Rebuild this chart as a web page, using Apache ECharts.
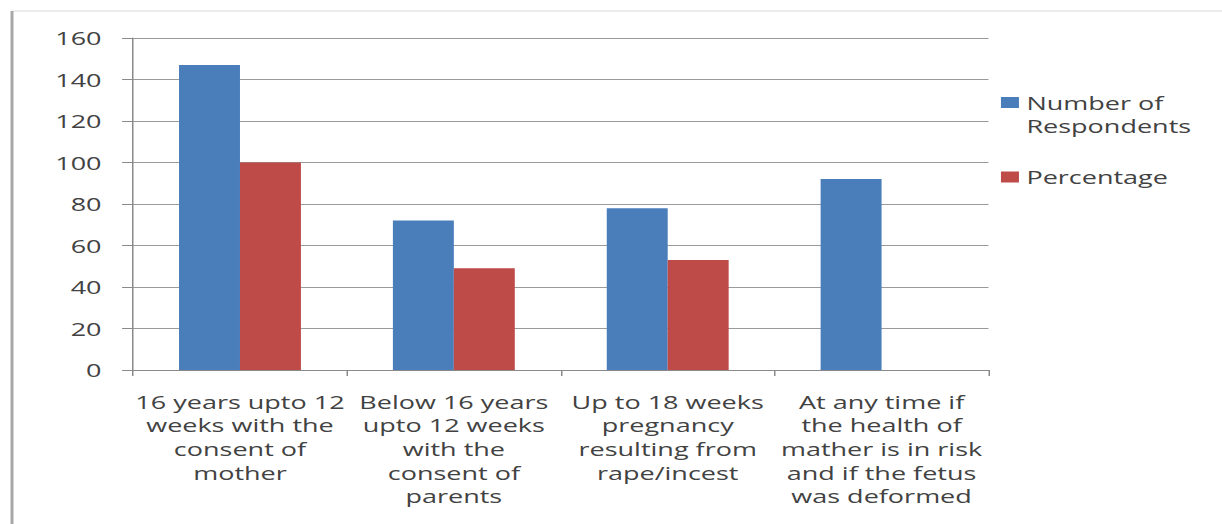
<!DOCTYPE html>
<html>
<head>
<meta charset="utf-8">
<script src="https://cdn.jsdelivr.net/npm/echarts@6/dist/echarts.min.js"></script>
<style>
  html, body { margin: 0; padding: 0; background: #ffffff; overflow: hidden; }
  /* the chart is laid out narrow and widened horizontally */
  #chart { width: 814.67px; height: 524px; transform: scaleX(1.5); transform-origin: 0 0; }
</style>
</head>
<body>
<div id="chart"></div>
<script>
const categories = [
  '16 years upto 12\nweeks with the\nconsent of\nmother',
  'Below 16 years\nupto 12 weeks\nwith the\nconsent of\nparents',
  'Up to 18 weeks\npregnancy\nresulting from\nrape/incest',
  'At any time if\nthe health of\nmather is in risk\nand if the fetus\nwas deformed'
];
const seriesNames = ['Number of\nRespondents', 'Percentage'];
const respondents = [147, 72, 78, 92];
const percentage = [100, 49, 53, null];
const yTicks = { min: 0, max: 160, interval: 20 };

const FONT = '"Open Sans", "Noto Sans", sans-serif';
const TEXT = '#424242';
const GRID = '#9a9a9a';

const chart = echarts.init(document.getElementById('chart'), null, { renderer: 'svg' });
chart.setOption({
  backgroundColor: '#ffffff',
  animation: false,
  textStyle: { fontFamily: FONT },
  grid: { left: 88.7, right: 156, top: 38, bottom: 154, containLabel: false },
  legend: {
    orient: 'vertical',
    left: 667.3,
    top: 68,
    padding: 0,
    itemWidth: 12,
    itemHeight: 11,
    itemGap: 28.5,
    icon: 'rect',
    // a blank leading line keeps the swatch level with the first line of a two-line name
    formatter: name => (name.indexOf('\n') >= 0 ? ' \n' + name : name),
    textStyle: { fontFamily: FONT, fontSize: 18, color: TEXT, lineHeight: 23 },
    data: seriesNames
  },
  xAxis: {
    type: 'category',
    data: categories,
    axisLine: { show: true, lineStyle: { color: '#8a8a8a', width: 1 } },
    axisTick: { show: true, length: 6, lineStyle: { color: '#8a8a8a' } },
    axisLabel: {
      interval: 0, margin: 20, fontSize: 18, lineHeight: 23.6,
      color: TEXT, fontFamily: FONT, align: 'center'
    },
    splitLine: { show: false }
  },
  yAxis: {
    type: 'value',
    min: yTicks.min, max: yTicks.max, interval: yTicks.interval,
    axisLine: { show: true, lineStyle: { color: '#8a8a8a', width: 1 } },
    axisTick: { show: true, length: 7.3, lineStyle: { color: '#8a8a8a' } },
    axisLabel: { margin: 21, fontSize: 18, color: TEXT, fontFamily: FONT },
    splitLine: { show: true, lineStyle: { color: GRID, width: 1 } }
  },
  series: [
    {
      name: seriesNames[0], type: 'bar', data: respondents,
      barGap: '0%', barCategoryGap: '43%',
      itemStyle: { color: '#4a7ebb' }
    },
    {
      name: seriesNames[1], type: 'bar', data: percentage,
      barGap: '0%', barCategoryGap: '43%',
      itemStyle: { color: '#be4b48' }
    }
  ],
  graphic: [
    { type: 'line', silent: true, shape: { x1: 8, y1: 11, x2: 815, y2: 11 },
      style: { stroke: '#dcdcdc', lineWidth: 1 } },
    { type: 'line', silent: true, shape: { x1: 8, y1: 11, x2: 8, y2: 524 },
      style: { stroke: '#a8a8a8', lineWidth: 2 } }
  ]
});
</script>
</body>
</html>
